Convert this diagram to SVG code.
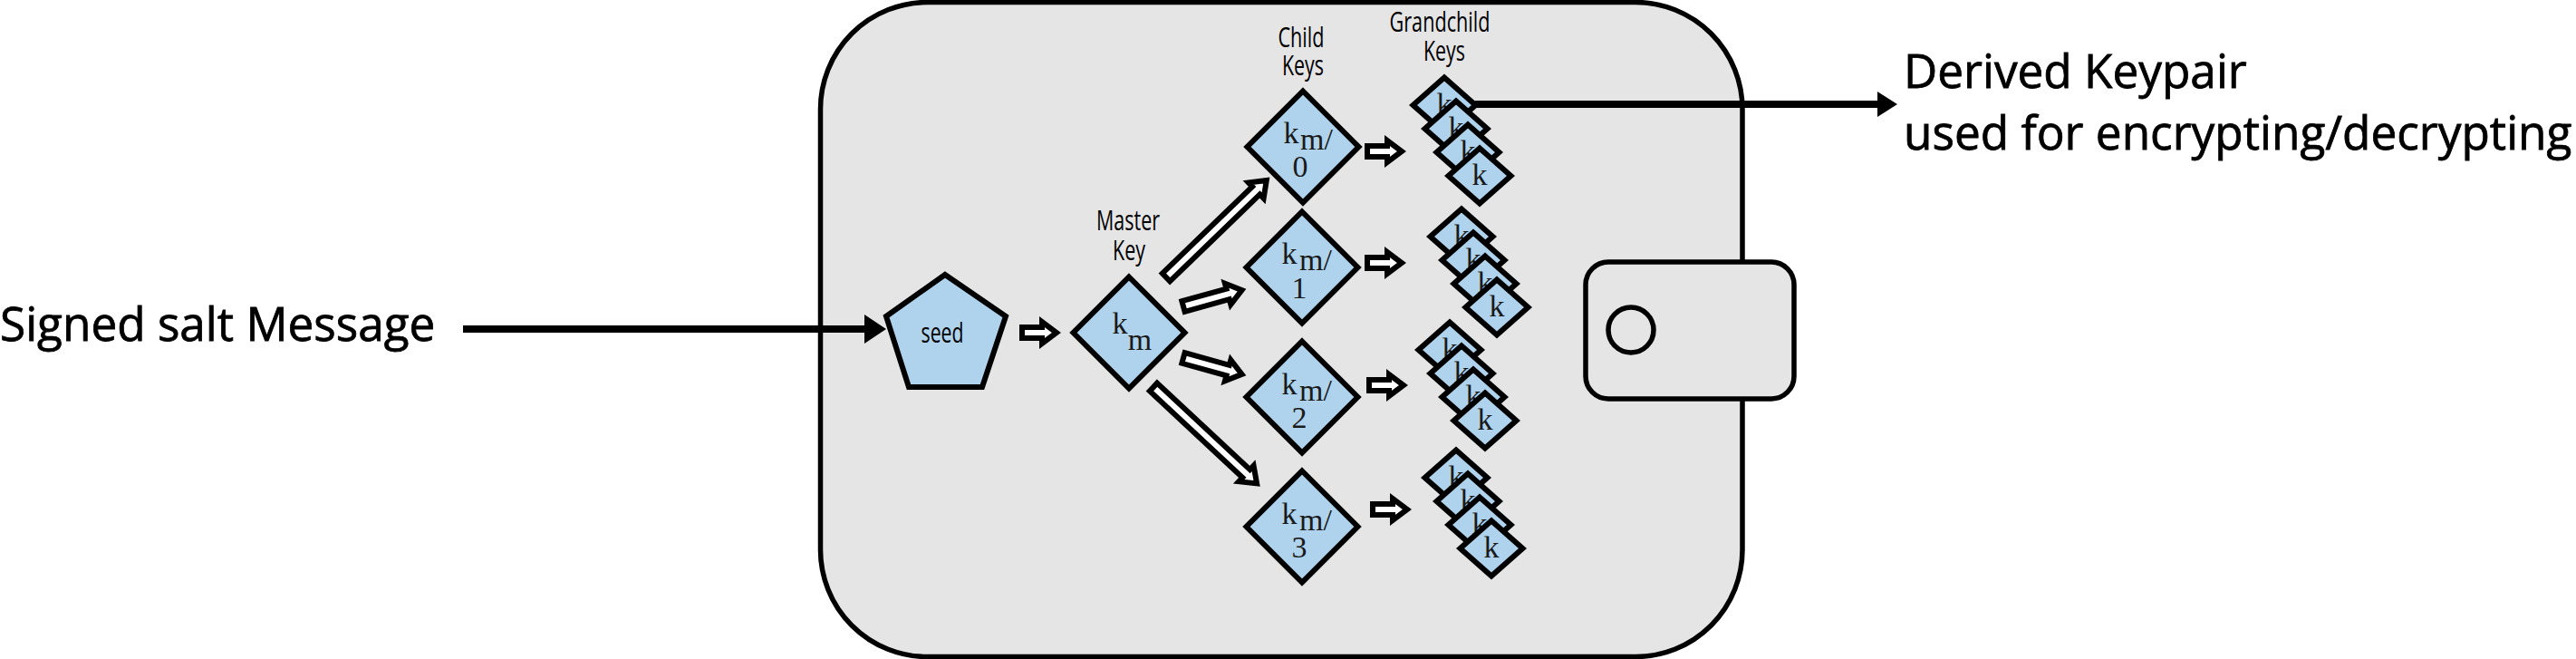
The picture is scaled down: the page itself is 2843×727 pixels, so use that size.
<svg xmlns="http://www.w3.org/2000/svg" width="2843" height="727" viewBox="0 0 2843 727">
<style>
.w{fill:#e5e5e5;stroke:#000;stroke-width:5.5}
.n{fill:#afd3ec;stroke:#000;stroke-width:6;stroke-linejoin:miter}
.a{fill:#fff;stroke:#000;stroke-width:6;stroke-linejoin:miter}
.l{font-family:"Open Sans",sans-serif;font-size:31px;fill:#000;text-anchor:middle}
.m{font-family:"Open Sans",sans-serif;font-size:51.3px;fill:#000;stroke:#000;stroke-width:.8}
.k{font-family:"Liberation Serif",serif;font-size:34px;fill:#1a1a1a;text-anchor:middle}
.s{font-family:"Liberation Serif",serif;font-size:34px;fill:#1a1a1a}
.b{stroke:#000;stroke-width:8;fill:none}
</style>
<defs>
<polygon id="d" class="n" points="0,-61.5 61.5,0 0,61.5 -61.5,0"/>
<g id="sd"><polygon class="n" points="0,-30.5 34.5,0 0,30.5 -34.5,0"/><text class="k" y="10">k</text></g>
<g id="st">
<use href="#sd" x="0" y="0"/><use href="#sd" x="13" y="26"/><use href="#sd" x="26" y="52"/><use href="#sd" x="39" y="78"/>
</g>
<polygon id="a40" class="a" points="0,-6 22,-6 22,-12 38,0 22,12 22,6 0,6"/>
</defs>
<g id="wallet">
<rect class="w" x="905.5" y="2.5" width="1017.5" height="722" rx="118" ry="118"/>
<rect class="w" x="1750" y="289" width="230" height="151" rx="25" ry="25"/>
<circle class="w" cx="1800" cy="364" r="25"/>
</g>
<g id="connectors">
<use href="#a40" x="1128" y="367"/>
<use href="#a40" x="1509" y="167"/>
<use href="#a40" x="1509" y="290"/>
<use href="#a40" x="1511" y="425"/>
<use href="#a40" x="1515" y="562"/>
<polygon class="a" transform="translate(1287,306) rotate(-44)" points="0,-6 138,-6 138,-12 154,0 138,12 138,6 0,6"/>
<polygon class="a" transform="translate(1306,338) rotate(-15.5)" points="0,-6 51,-6 51,-12 67,0 51,12 51,6 0,6"/>
<polygon class="a" transform="translate(1306,395) rotate(15.5)" points="0,-6 51,-6 51,-12 67,0 51,12 51,6 0,6"/>
<polygon class="a" transform="translate(1273,427) rotate(43)" points="0,-6 140,-6 140,-12 156,0 140,12 140,6 0,6"/>
<line class="b" x1="511" y1="363" x2="956" y2="363"/>
<polygon points="954,347 978,363 954,379"/>
</g>
<g id="seed"><polygon class="n" points="1043,303 1110,349 1084,427 1003,427 978,349"/><text class="l" x="1040" y="378" textLength="47" lengthAdjust="spacingAndGlyphs">seed</text></g>
<g id="master"><use href="#d" x="1246" y="367"/><text class="k" x="1236" y="368">k</text><text class="k" x="1258" y="386">m</text></g>
<g id="child0"><use href="#d" x="1438" y="162"/><text class="k" x="1425" y="158">k</text><text class="s" x="1435" y="165">m/</text><text class="k" x="1435" y="195">0</text></g>
<g id="child1"><use href="#d" x="1437" y="295"/><text class="k" x="1423" y="291">k</text><text class="s" x="1434" y="298">m/</text><text class="k" x="1434" y="329">1</text></g>
<g id="child2"><use href="#d" x="1437" y="438"/><text class="k" x="1423" y="435">k</text><text class="s" x="1434" y="442">m/</text><text class="k" x="1434" y="472">2</text></g>
<g id="child3"><use href="#d" x="1437" y="581"/><text class="k" x="1423" y="578">k</text><text class="s" x="1434" y="585">m/</text><text class="k" x="1434" y="615">3</text></g>
<g id="gc0"><use href="#st" x="1594" y="116"/></g>
<g id="gc1"><use href="#st" x="1613" y="261"/></g>
<g id="gc2"><use href="#st" x="1600" y="386"/></g>
<g id="gc3"><use href="#st" x="1607" y="527"/></g>
<g id="connector-out">
<line class="b" x1="1628" y1="115" x2="2075" y2="115"/>
<polygon points="2072,101 2094,115 2072,129"/>
</g>
<g id="labels">
<text class="l" x="1436" y="52" textLength="51" lengthAdjust="spacingAndGlyphs">Child</text><text class="l" x="1438" y="83" textLength="46" lengthAdjust="spacingAndGlyphs">Keys</text>
<text class="l" x="1589" y="35" textLength="111" lengthAdjust="spacingAndGlyphs">Grandchild</text><text class="l" x="1594" y="67" textLength="46" lengthAdjust="spacingAndGlyphs">Keys</text>
<text class="l" x="1245" y="254" textLength="70" lengthAdjust="spacingAndGlyphs">Master</text><text class="l" x="1246" y="287" textLength="36" lengthAdjust="spacingAndGlyphs">Key</text>
<text class="m" x="0" y="376">Signed salt Message</text>
<text class="m" x="2101" y="97">Derived Keypair</text>
<text class="m" x="2101" y="165">used for encrypting/decrypting</text>
</g>
</svg>
